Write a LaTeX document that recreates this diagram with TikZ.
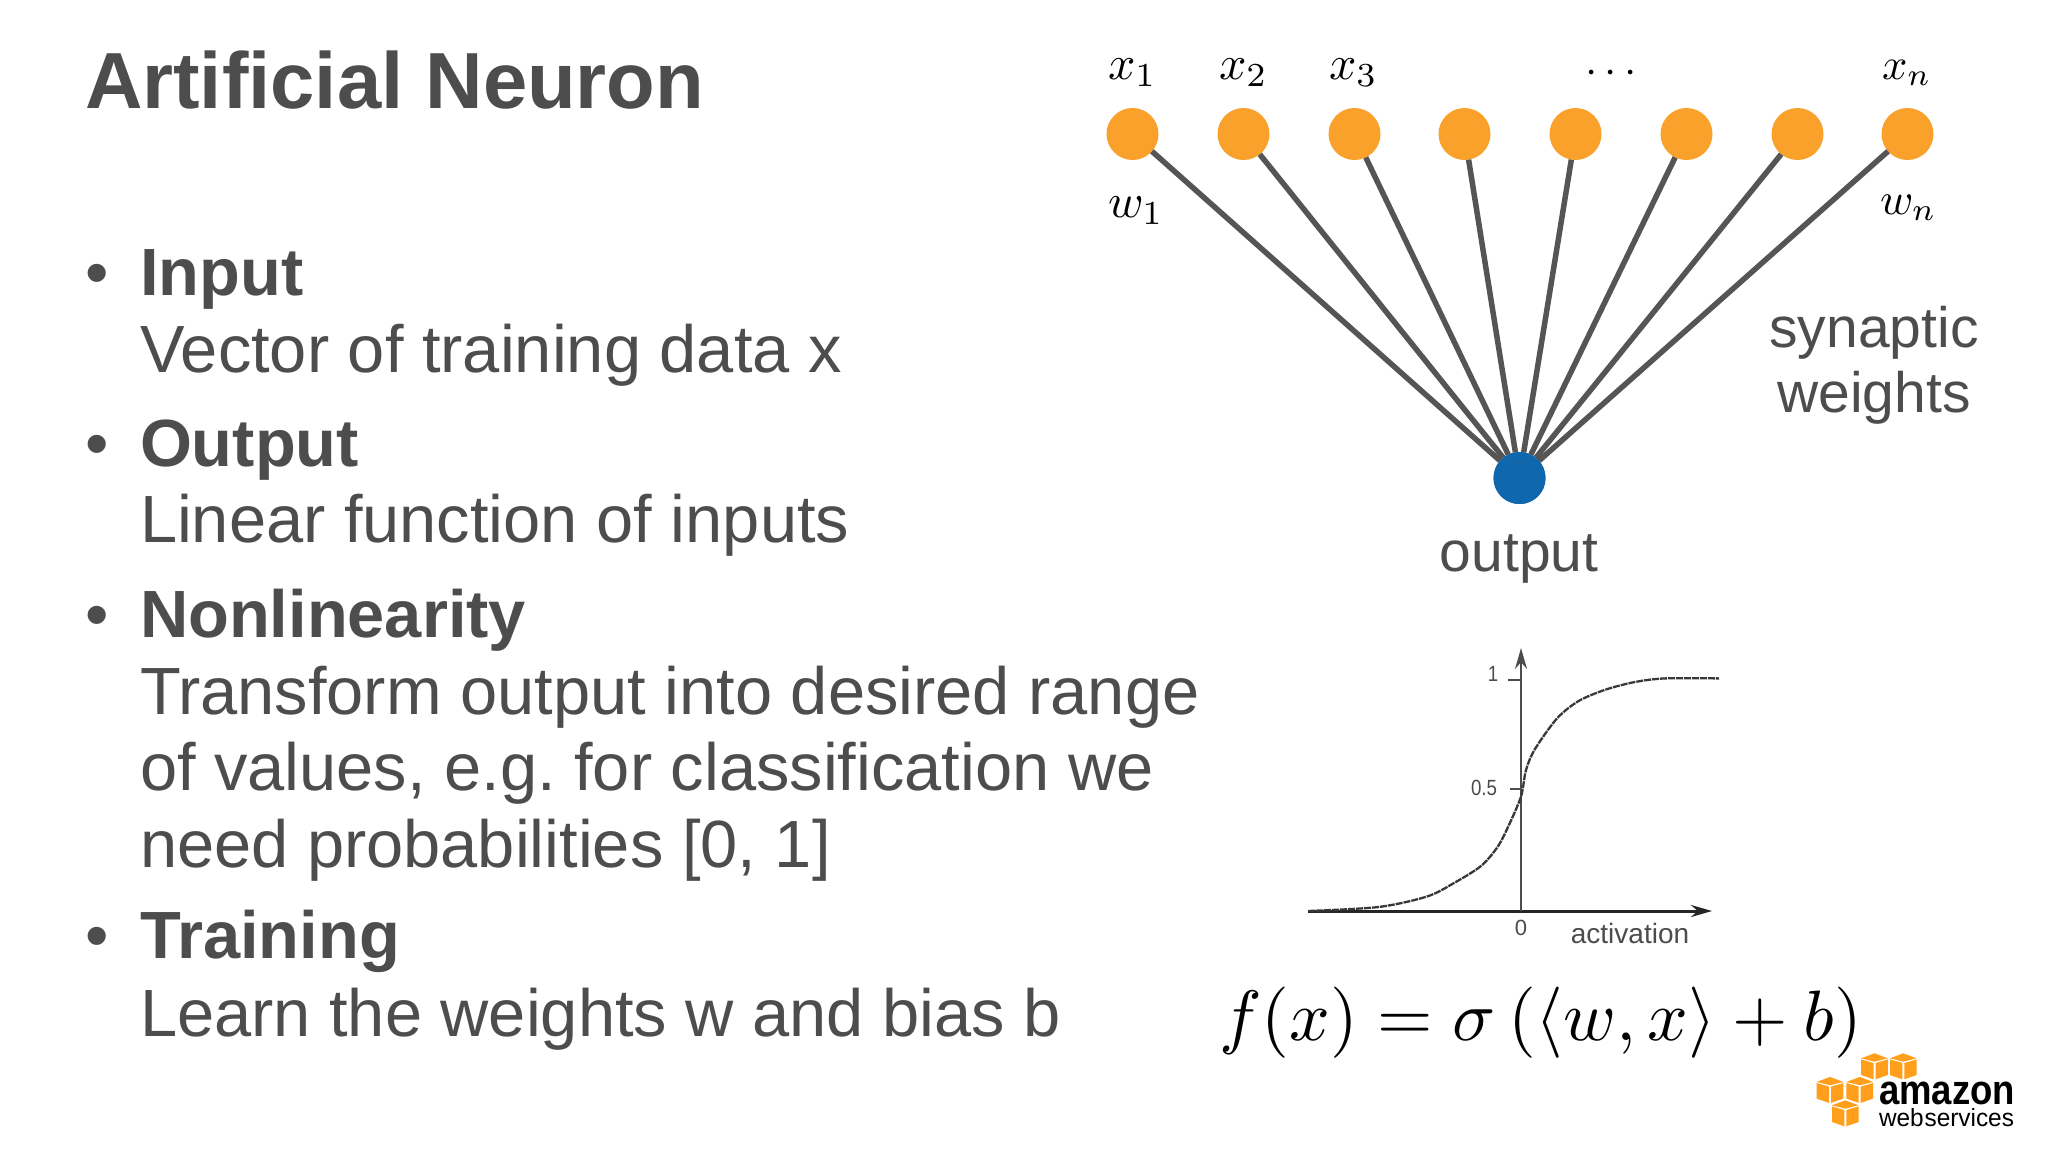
\documentclass[tikz,border=0pt]{standalone}
\usepackage{fontspec}
\setmainfont{Liberation Sans}
\usepackage{graphicx}
\usetikzlibrary{arrows.meta}
\definecolor{slidegray}{HTML}{4D4D4D}
\definecolor{inorange}{HTML}{F9A12B}
\definecolor{outblue}{HTML}{0F67AE}
\definecolor{linegray}{HTML}{555555}
\definecolor{awsorange}{HTML}{FF9F1C}
\newcommand{\fs}[1]{\fontsize{#1}{#1}\selectfont\frenchspacing}
\newcommand{\awscube}[2]{%
  \fill[awsorange] (#1,#2-12.7) -- (#1+13.3,#2-7.7) -- (#1,#2-4.3) -- (#1-13.3,#2-7.7) -- cycle;
  \fill[awsorange] (#1-13.3,#2-6.6) -- (#1-1,#2-3) -- (#1-1,#2+13.3) -- (#1-13.3,#2+9) -- cycle;
  \fill[awsorange] (#1+13.3,#2-6.6) -- (#1+1,#2-3) -- (#1+1,#2+13.3) -- (#1+13.3,#2+9) -- cycle;}
\tikzset{
  txt/.style={inner sep=0pt,outer sep=0pt,anchor=base west,text=slidegray},
  titletxt/.style={txt,font=\fs{79.6}\bfseries},
  headtxt/.style={txt,font=\fs{66.8}\bfseries},
  bodytxt/.style={txt,font=\fs{66.8}},
  lbl/.style={inner sep=0pt,outer sep=0pt,anchor=base,text=slidegray,font=\fs{57}},
  mathl/.style={inner sep=0pt,outer sep=0pt,anchor=base west,text=black},
  neuron/.style={circle,inner sep=0pt,outer sep=0pt,minimum size=52pt,fill=inorange},
  outneuron/.style={circle,inner sep=0pt,outer sep=0pt,minimum size=52pt,fill=outblue},
  synapse/.style={draw=linegray,line width=5.5pt},
  axisl/.style={draw=#1,-{Stealth[length=21pt,width=12pt]}},
  tinylbl/.style={inner sep=0pt,outer sep=0pt,anchor=center,text=black!70,font=\fs{22}},
}
\begin{document}
\begin{tikzpicture}[x=1pt,y=-1pt]
\useasboundingbox[fill=white] (0,0) rectangle (2048,1152);

% title and bullets
\node[titletxt] (title) at (85,108) {Artificial Neuron};
\node[bodytxt] (b1) at (85,295.5) {•};
\node[headtxt] (h1) at (140,295.5) {Input};
\node[bodytxt] (t1) at (140,372) {Vector of training data x};
\node[bodytxt] (b2) at (85,466) {•};
\node[headtxt] (h2) at (140,466) {Output};
\node[bodytxt] (t2) at (140,542.7) {Linear function of inputs};
\node[bodytxt] (b3) at (85,637) {•};
\node[headtxt] (h3) at (140,637) {Nonlinearity};
\node[bodytxt] (t3) at (140,714) {Transform output into desired range};
\node[bodytxt] (t4) at (140,790) {of values, e.g. for classification we};
\node[bodytxt] (t5) at (140,867) {need probabilities [0, 1]};
\node[bodytxt] (b4) at (85,958) {•};
\node[headtxt] (h4) at (140,958) {Training};
\node[bodytxt] (t6) at (140,1036) {Learn the weights w and bias b};

% network
\foreach \i/\xx in {1/1132.5,2/1243.5,3/1354.5,4/1464.5,5/1575.5,6/1686.5,7/1797.5,8/1907.5}
  \node[neuron] (n\i) at (\xx,134) {};
\node[outneuron] (out) at (1519.5,478) {};
\foreach \i in {1,...,8}
  \draw[synapse] (n\i) -- (out);
\node[outneuron] at (out) {};

\node[mathl] (x1) at (1108,79) {\scalebox{4.8}{$x_1$}};
\node[mathl] (x2) at (1219,79) {\scalebox{4.8}{$x_2$}};
\node[mathl] (x3) at (1329,79) {\scalebox{4.8}{$x_3$}};
\node[mathl] (xd) at (1585,83) {\scalebox{4.4}{$\cdots$}};
\node[mathl] (xn) at (1882,79) {\scalebox{4.45}{$x_n$}};
\node[mathl] (w1) at (1108,217) {\scalebox{4.8}{$w_1$}};
\node[mathl] (wn) at (1880,214) {\scalebox{4.5}{$w_n$}};

\node[lbl] (syn) at (1874,347.3) {synaptic};
\node[lbl] (wei) at (1874,412.3) {weights};
\node[lbl] (outl) at (1519,571) {output};

% activation plot
\coordinate (xs) at (1308,911);
\coordinate (xe) at (1712,911);
\coordinate (ys) at (1521,911);
\coordinate (ye) at (1521,648);
\draw[axisl=black!85,line width=3pt] (xs) -- (xe);
\draw[axisl=black!70,line width=2pt] (ys) -- (ye);
\draw[black!70,line width=1.4pt] (1508,680) -- (1521,680) (1510,789) -- (1521,789);
\draw[black!78,line width=2.3pt,dash pattern=on 7pt off 1pt,smooth] plot coordinates {
 (1308,911) (1378.5,907) (1427,896.5) (1454,883) (1481,866) (1497.5,847) (1508,827) (1521,796.5)
 (1526,770) (1535,749) (1557,718.4) (1578.6,701) (1605.6,689.6) (1635,682) (1665,678.4) (1719,678.4)};
\node[tinylbl,xscale=0.85] (l1) at (1493,674) {1};
\node[tinylbl,xscale=0.85] (l05) at (1484,788) {0.5};
\node[tinylbl] (l0) at (1521,928) {0};
\node[tinylbl,font=\fs{28}] (lact) at (1630,933) {activation};

% formula
\node[mathl] (formula) at (1219,1040) {\resizebox{643pt}{!}{$f(x)=\sigma\left(\langle w,x\rangle+b\right)$}};

% logo
\awscube{1874.5}{1066}
\awscube{1903.3}{1066}
\awscube{1830}{1089.6}
\awscube{1859.7}{1089.6}
\awscube{1845.3}{1113}
\node[mathl] (amazon) at (1879,1104) {\resizebox{136pt}{22.5pt}{\fs{44}\bfseries amazon}};
\node[mathl] (webs) at (1879,1126) {\resizebox{135pt}{18pt}{\fs{30}web\kern1pt services}};
\end{tikzpicture}
\end{document}
